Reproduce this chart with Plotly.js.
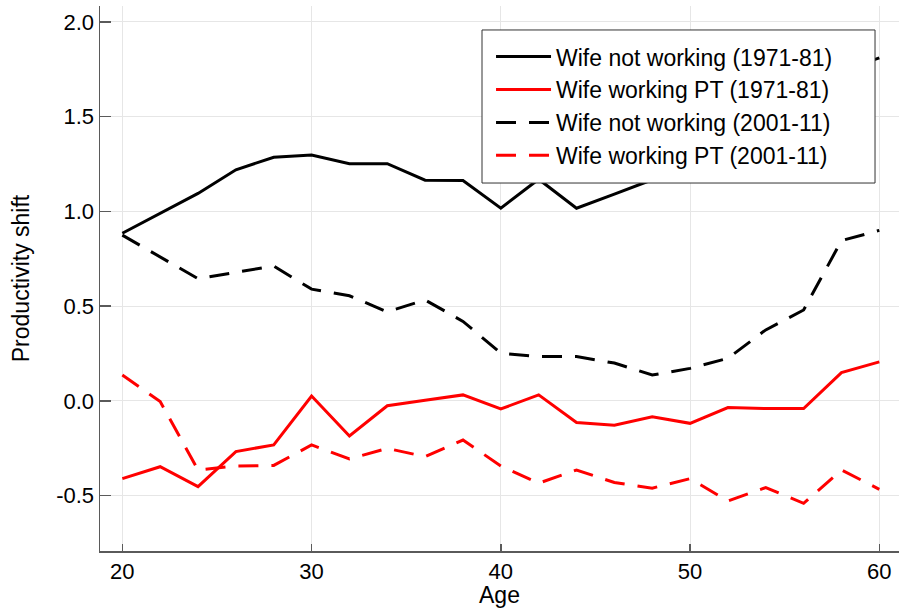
<!DOCTYPE html>
<html>
<head>
<meta charset="utf-8">
<script src="https://cdn.plot.ly/plotly-3.0.1.min.js"></script>
<style>
html,body{margin:0;padding:0;background:#fff;}
#chart{width:899px;height:608px;}
</style>
</head>
<body>
<div id="chart"></div>
<script>
const age = [20,22,24,26,28,30,32,34,36,38,40,42,44,46,48,50,52,54,56,58,60];
const notWorking7181 = [0.885,0.99,1.095,1.22,1.286,1.298,1.252,1.252,1.165,1.163,1.017,1.17,1.017,1.091,1.167,1.22,1.30,1.40,1.48,1.74,1.81];
const workingPT7181 = [-0.41,-0.347,-0.452,-0.267,-0.232,0.026,-0.185,-0.025,0.004,0.032,-0.042,0.032,-0.114,-0.128,-0.083,-0.118,-0.035,-0.04,-0.04,0.15,0.206];
const notWorking0111 = [0.875,0.76,0.645,0.679,0.712,0.59,0.555,0.47,0.533,0.42,0.252,0.234,0.234,0.20,0.137,0.172,0.225,0.375,0.48,0.846,0.90];
const workingPT0111 = [0.137,-0.003,-0.364,-0.343,-0.34,-0.232,-0.306,-0.25,-0.294,-0.206,-0.343,-0.434,-0.364,-0.43,-0.46,-0.41,-0.528,-0.457,-0.54,-0.364,-0.466];
const names = ["Wife not working (1971-81)","Wife working PT (1971-81)","Wife not working (2001-11)","Wife working PT (2001-11)"];
const xTicks = [20,30,40,50,60];
const yTicks = [-0.5,0.0,0.5,1.0,1.5,2.0];
const yTickText = ["-0.5","0.0","0.5","1.0","1.5","2.0"];

const font = "'Liberation Sans', Arial, Helvetica, sans-serif";
const dashPat = "20px,13px";

const traces = [
  {x: age, y: notWorking7181, name: names[0], mode: "lines", line: {color: "#000000", width: 3}},
  {x: age, y: workingPT7181, name: names[1], mode: "lines", line: {color: "#ff0000", width: 3}},
  {x: age, y: notWorking0111, name: names[2], mode: "lines", line: {color: "#000000", width: 3, dash: dashPat}},
  {x: age, y: workingPT0111, name: names[3], mode: "lines", line: {color: "#ff0000", width: 3, dash: dashPat}}
];

const layout = {
  width: 899, height: 608,
  margin: {l: 100, r: 0, t: 6, b: 57, pad: 0},
  paper_bgcolor: "#ffffff", plot_bgcolor: "#ffffff",
  font: {family: font, color: "#000000", size: 22},
  showlegend: true,
  legend: {
    x: 0.4894, y: 0.9465, xanchor: "left", yanchor: "top",
    bgcolor: "rgba(0,0,0,0)", borderwidth: 0,
    font: {family: font, size: 23, color: "#000000"},
    itemwidth: 55, tracegroupgap: 0
  },
  shapes: [{
    type: "rect", xref: "paper", yref: "paper", layer: "above",
    x0: 0.4781, x1: 0.970, y0: 0.6752, y1: 0.956,
    fillcolor: "#ffffff", line: {color: "#333333", width: 1}
  }],
  xaxis: {
    range: [18.82, 61.04], tickmode: "array", tickvals: xTicks, ticktext: xTicks.map(String),
    showgrid: true, gridcolor: "#e6e6e6", gridwidth: 1, zeroline: false,
    showline: true, linecolor: "#5a5a5a", linewidth: 1.5,
    ticks: "inside", ticklen: 7, tickcolor: "#5a5a5a", tickwidth: 1.5,
    tickfont: {family: font, size: 22, color: "#000000"},
    title: {text: "Age", font: {family: font, size: 23, color: "#000000"}, standoff: 2},
    automargin: false
  },
  yaxis: {
    range: [-0.7916, 2.084], tickmode: "array", tickvals: yTicks, ticktext: yTickText,
    showgrid: true, gridcolor: "#e6e6e6", gridwidth: 1, zeroline: false,
    showline: true, linecolor: "#5a5a5a", linewidth: 1.5,
    ticks: "inside", ticklen: 11, tickcolor: "#5a5a5a", tickwidth: 1.5,
    tickfont: {family: font, size: 22, color: "#000000"},
    title: {text: "Productivity shift", font: {family: font, size: 23, color: "#000000"}, standoff: 20},
    automargin: false
  }
};

Plotly.newPlot("chart", traces, layout, {displayModeBar: false, staticPlot: true});
</script>
</body>
</html>
